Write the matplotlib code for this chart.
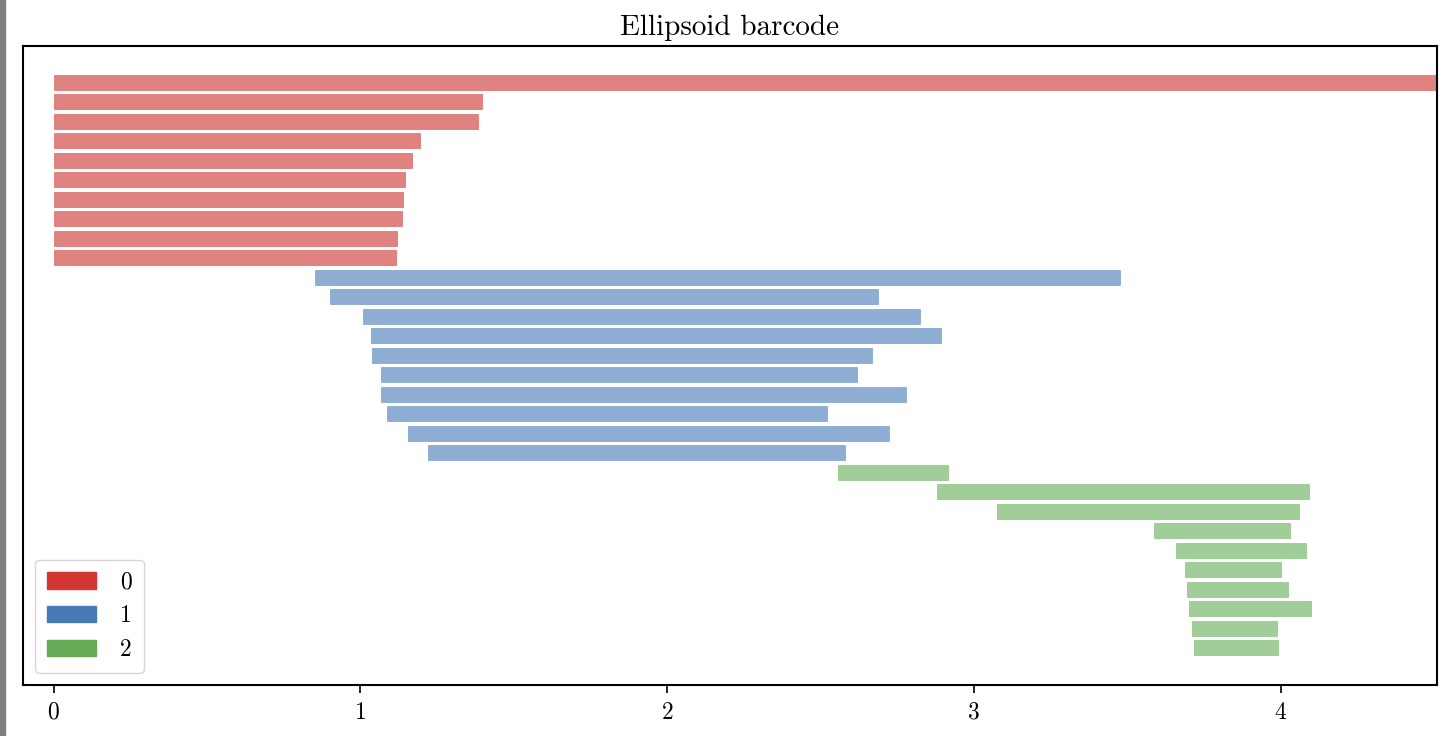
import matplotlib
matplotlib.use("Agg")
import matplotlib.pyplot as plt
import matplotlib.patches as mpatches
import numpy as np

plt.rcParams['font.family'] = 'serif'
plt.rcParams['font.serif'] = ['cmr10', 'DejaVu Serif']
plt.rcParams['mathtext.fontset'] = 'cm'
plt.rcParams['axes.formatter.use_mathtext'] = True

# persistence intervals, one list per homology dimension (top to bottom)
dims = [0, 1, 2]
birth_0 = [0.0] * 10
death_0 = [np.inf, 1.398, 1.382, 1.194, 1.169, 1.144, 1.140, 1.136, 1.119, 1.116]
birth_1 = [0.852, 0.901, 1.009, 1.035, 1.038, 1.068, 1.068, 1.087, 1.156, 1.221]
death_1 = [3.477, 2.688, 2.825, 2.893, 2.668, 2.619, 2.779, 2.522, 2.724, 2.580]
birth_2 = [2.558, 2.880, 3.076, 3.588, 3.660, 3.689, 3.696, 3.702, 3.712, 3.718]
death_2 = [2.916, 4.093, 4.061, 4.031, 4.083, 4.000, 4.025, 4.100, 3.989, 3.992]

colors = ['#d33731', '#487ab4', '#66ac56']
bar_colors = ['#cb2f2b', '#437bb6', '#62ac53']
x_min, x_max = -0.1, 4.51

fig = plt.figure(figsize=(14.48, 7.36), dpi=100)
ax = fig.add_axes([0.0159, 0.0693, 0.9765, 0.8682])

births = [birth_0, birth_1, birth_2]
deaths = [death_0, death_1, death_2]
row = 0
for d in dims:
    b = np.array(births[d])
    e = np.array(deaths[d])
    e = np.where(np.isinf(e), x_max + 0.05, e)
    y = np.arange(row, row + len(b))
    ax.barh(y, e - b, left=b, height=0.77, color=bar_colors[d], alpha=0.6,
            edgecolor=bar_colors[d], linewidth=0.5)
    row += len(b)

ax.set_xlim(x_min, x_max)
ax.set_ylim(row + 0.9, -1.87)
ax.set_yticks([])
ax.set_xticks([0, 1, 2, 3, 4])
ax.tick_params(axis='x', labelsize=17, length=6, width=1.2, pad=6)
for s in ax.spines.values():
    s.set_linewidth(1.5)
ax.set_title("Ellipsoid barcode", fontsize=21, pad=8)

handles = [mpatches.Patch(color=colors[d], label=str(d)) for d in dims]
ax.legend(handles=handles, loc='lower left', fontsize=17, handlelength=2.1,
          borderpad=0.5, labelspacing=0.5, handletextpad=1.0,
          bbox_to_anchor=(0.0, 0.0))

# gray border strip from the screenshot
fig.patches.append(mpatches.Rectangle((0, 0), 5 / 1448, 1, transform=fig.transFigure,
                                      color='#7f7f7f', zorder=0))

fig.savefig("out.png", dpi=100)
